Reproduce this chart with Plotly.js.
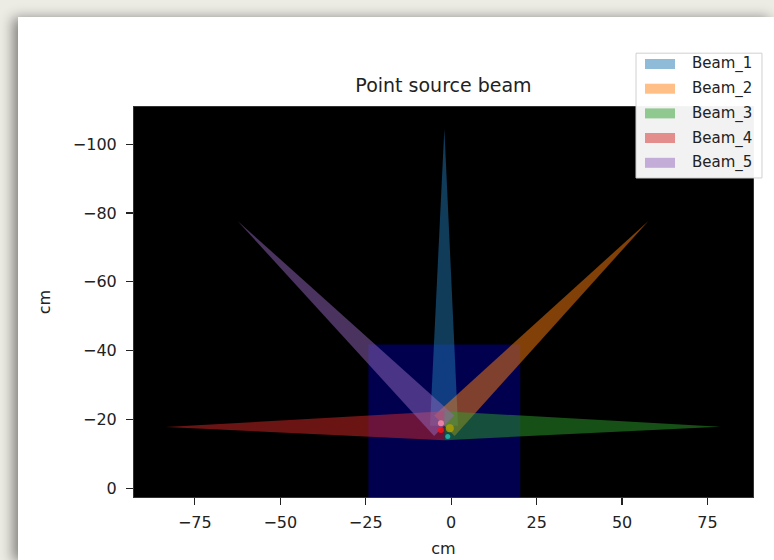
<!DOCTYPE html>
<html>
<head>
<meta charset="utf-8">
<script src="https://cdn.plot.ly/plotly-3.0.1.min.js"></script>
<style>
  html, body { margin: 0; padding: 0; width: 774px; height: 560px; overflow: hidden; background: #ecebe4; }
  #card { position: absolute; left: 18px; top: 17px; width: 756px; height: 543px; background: #ffffff;
          box-shadow: -5px 1px 12px rgba(0,0,0,0.45); }
</style>
</head>
<body>
<div id="card"></div>
<script>
// ---- data (cm) ----
const beamNames = ["Beam_1", "Beam_2", "Beam_3", "Beam_4", "Beam_5"];
// each beam: two base points near the source, then the far tip
const beam1_x = [-6.2, 2.0, -2.0];
const beam1_y = [-18.2, -18.2, -104.5];
const beam2_x = [1.0, -5.0, 57.7];
const beam2_y = [-15.2, -21.2, -77.7];
const beam3_x = [-2.0, -2.0, 78.7];
const beam3_y = [-22.4, -14.0, -17.9];
const beam4_x = [-2.0, -2.0, -83.6];
const beam4_y = [-22.4, -14.0, -17.8];
const beam5_x = [0.9, -5.0, -62.5];
const beam5_y = [-21.2, -15.2, -77.7];
// detector block
const rect_x = [-24.2, 20.2, 20.2, -24.2];
const rect_y = [-41.8, -41.8, 5.0, 5.0];
// small source spots
const src_x = [-3.0, -3.0, -0.4, -1.0];
const src_y = [-18.9, -17.0, -17.5, -15.1];
// axes
const xTicks = [-75, -50, -25, 0, 25, 50, 75];
const yTicks = [-100, -80, -60, -40, -20, 0];
const xRange = [-92.8, 88.3];
const yRange = [2.5, -110.8];

const beamX = [beam1_x, beam2_x, beam3_x, beam4_x, beam5_x];
const beamY = [beam1_y, beam2_y, beam3_y, beam4_y, beam5_y];
const fills = ["rgba(31,119,180,0.5)", "rgba(255,127,14,0.5)", "rgba(44,160,44,0.5)",
               "rgba(214,39,40,0.5)", "rgba(148,103,189,0.5)"];

const traces = [{
  type: "scatter", mode: "none", x: rect_x, y: rect_y, fill: "toself",
  fillcolor: "rgba(0,0,255,0.31)", showlegend: false, hoverinfo: "skip"
}];
beamNames.forEach((n, i) => {
  traces.push({
    type: "scatter", mode: "none", name: n,
    x: beamX[i], y: beamY[i], fill: "toself", fillcolor: fills[i], showlegend: false
  });
});
traces.push({
  type: "scatter", mode: "markers", x: src_x, y: src_y, showlegend: false, hoverinfo: "skip",
  marker: { size: [6, 6, 8, 5], color: ["#ff8fb0", "#ff1010", "#b0a000", "#20c0c0"], opacity: 0.8, line: { width: 0 } }
});

// matplotlib-style legend box drawn with paper-referenced shapes and annotations
const shapes = [{
  type: "rect", xref: "paper", yref: "paper", x0: 0.811, x1: 1.0145, y0: 0.818, y1: 1.138,
  fillcolor: "rgba(255,255,255,0.95)", line: { color: "#d0d0d0", width: 1 }, layer: "above"
}];
const annotations = [];
const rowY = [1.1103, 1.0469, 0.9836, 0.9205, 0.8569];
beamNames.forEach((n, i) => {
  shapes.push({
    type: "rect", xref: "paper", yref: "paper", x0: 0.8255, x1: 0.874,
    y0: rowY[i] - 0.0128, y1: rowY[i] + 0.0128,
    fillcolor: fills[i], line: { width: 0 }, layer: "above"
  });
  annotations.push({
    xref: "paper", yref: "paper", x: 0.8982, y: rowY[i], xanchor: "left", yanchor: "middle",
    text: n, showarrow: false, font: { size: 15, color: "#222" }
  });
});

const fontFam = "DejaVu Sans, sans-serif";
const layout = {
  width: 756, height: 543,
  margin: { l: 116, r: 21, t: 90, b: 63 },
  paper_bgcolor: "#ffffff",
  plot_bgcolor: "#000000",
  font: { family: fontFam, color: "#222222", size: 16 },
  title: { text: "Point source beam", font: { family: fontFam, size: 19, color: "#222222" },
           x: 0.5, xref: "paper", xanchor: "center", y: 0.875, yref: "container", yanchor: "middle" },
  xaxis: {
    range: xRange, tickvals: xTicks, ticktext: xTicks.map(v => v < 0 ? "\u2212" + Math.abs(v) : String(v)),
    ticks: "outside", ticklen: 7, tickcolor: "#222", tickwidth: 1.2,
    showgrid: false, zeroline: false, showline: true, linecolor: "#333", mirror: true,
    tickfont: { size: 16 }, ticklabelstandoff: 4,
    title: { text: "cm", font: { size: 16 }, standoff: 11 }
  },
  yaxis: {
    range: yRange, tickvals: yTicks, ticktext: yTicks.map(v => v < 0 ? "\u2212" + Math.abs(v) : String(v)),
    ticks: "outside", ticklen: 7, tickcolor: "#222", tickwidth: 1.2,
    showgrid: false, zeroline: false, showline: true, linecolor: "#333", mirror: true,
    tickfont: { size: 16 }, ticklabelstandoff: 6,
    title: { text: "cm", font: { size: 16 }, standoff: 18 }
  },
  showlegend: false,
  shapes: shapes,
  annotations: annotations
};

Plotly.newPlot("card", traces, layout, { staticPlot: true, displayModeBar: false });
</script>
</body>
</html>
